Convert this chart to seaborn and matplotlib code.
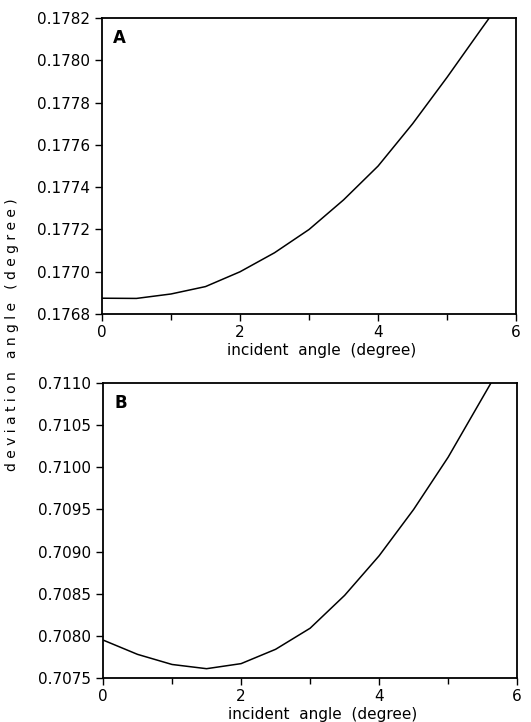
import matplotlib
matplotlib.use("Agg")
import matplotlib.pyplot as plt
import seaborn as sns
import pandas as pd

# Panel A: angle vs incident angle
incident_a = [0.0, 0.5, 1.0, 1.5, 2.0, 2.5, 3.0, 3.5, 4.0, 4.5, 5.0, 5.5, 5.61]
angle_a = [0.176875, 0.176874, 0.176895, 0.17693, 0.17700, 0.17709, 0.17720,
           0.17734, 0.17750, 0.17770, 0.17792, 0.17815, 0.17820]

# Panel B: deviation vs incident angle
incident_b = [0.0, 0.5, 1.0, 1.5, 2.0, 2.5, 3.0, 3.5, 4.0, 4.5, 5.0, 5.5, 5.62]
deviation_b = [0.70795, 0.70778, 0.70766, 0.70761, 0.70767, 0.70784, 0.70809,
               0.70848, 0.70895, 0.70950, 0.71012, 0.71083, 0.71100]

x_ticks = [0, 2, 4, 6]
a_ticks = [0.1768, 0.1770, 0.1772, 0.1774, 0.1776, 0.1778, 0.1780, 0.1782]
b_ticks = [0.7075, 0.7080, 0.7085, 0.7090, 0.7095, 0.7100, 0.7105, 0.7110]

sns.set_style("ticks")
plt.rcParams["font.family"] = ["DejaVu Sans"]
plt.rcParams["text.color"] = "black"
plt.rcParams["axes.labelcolor"] = "black"

fig = plt.figure(figsize=(5.31, 7.22), dpi=100)
ax_a = fig.add_axes([0.192, 0.565, 0.780, 0.410])
ax_b = fig.add_axes([0.194, 0.061, 0.780, 0.4085])

df_a = pd.DataFrame({"x": incident_a, "y": angle_a})
df_b = pd.DataFrame({"x": incident_b, "y": deviation_b})
sns.lineplot(data=df_a, x="x", y="y", ax=ax_a, color="black", linewidth=1.1)
sns.lineplot(data=df_b, x="x", y="y", ax=ax_b, color="black", linewidth=1.1)

for ax, ticks, tag in [(ax_a, a_ticks, "A"), (ax_b, b_ticks, "B")]:
    ax.set_xlim(0, 6)
    ax.set_ylim(ticks[0], ticks[-1])
    ax.set_xticks(x_ticks)
    ax.set_xticks([1, 3, 5], minor=True)
    ax.set_yticks(ticks)
    ax.set_yticklabels(["{:.4f}".format(t) for t in ticks])
    ax.tick_params(axis="both", which="major", labelsize=11, length=5, width=1,
                   direction="out", color="black", labelcolor="black")
    ax.tick_params(axis="x", which="minor", length=4, width=1, direction="out", color="black")
    ax.tick_params(axis="x", which="major", pad=3)
    for s in ax.spines.values():
        s.set_visible(True)
        s.set_linewidth(1.3)
        s.set_color("black")
    ax.set_xlabel("incident  angle  (degree)", fontsize=11)
    ax.xaxis.set_label_coords(0.53, -0.098)
    ax.set_ylabel("")
    ax.text(0.027, 0.962, tag, transform=ax.transAxes, fontsize=12,
            fontweight="bold", va="top", ha="left")

fig.text(0.022, 0.537, "d e v i a t i o n   a n g l e   ( d e g r e e )",
         rotation=90, ha="center", va="center", fontsize=10)

fig.savefig("out.png", dpi=100, facecolor="white")
